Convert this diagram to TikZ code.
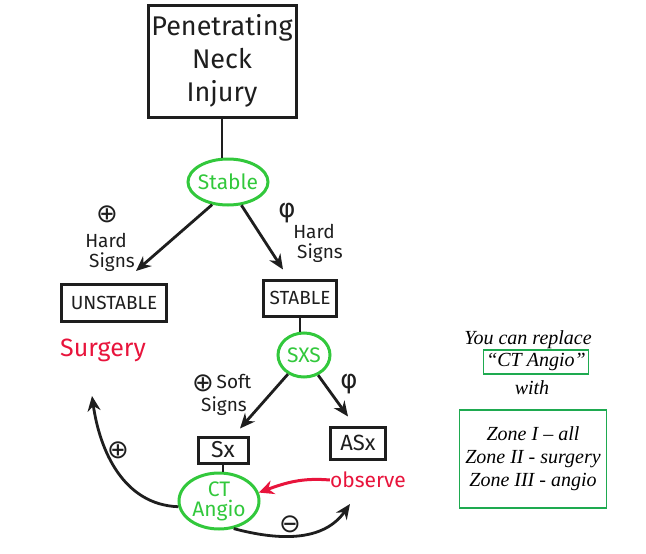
\documentclass[tikz,border=0pt]{standalone}
\usepackage{fontspec}
\setmainfont{Liberation Serif}
\newfontfamily\hand{Fira Sans}
\newfontfamily\symf{DejaVu Sans}
\usetikzlibrary{arrows.meta,shapes.geometric}
\definecolor{hgreen}{RGB}{50,200,60}
\definecolor{hred}{RGB}{232,20,60}
\definecolor{bgreen}{RGB}{30,170,80}
\definecolor{ink}{RGB}{30,30,30}
\begin{document}
\begin{tikzpicture}[x=1pt,y=-1pt,
  hbox/.style={draw=ink,line width=3pt,inner sep=2pt,font=\hand\fontsize{19}{20}\selectfont,text=ink},
  goval/.style={draw=hgreen,ellipse,line width=3pt,inner sep=-14pt,text=hgreen,font=\hand\fontsize{21}{21}\selectfont,align=center},
  arr/.style={-{Stealth[length=15pt,width=13pt]},line width=2.8pt,draw=ink},
  redarr/.style={-{Stealth[length=15pt,width=14pt]},line width=3pt,draw=hred},
  plain/.style={line width=2.8pt,draw=ink},
  lbl/.style={font=\hand\fontsize{19}{21}\selectfont,text=ink,inner sep=0pt},
  sym/.style={font=\symf\fontsize{26}{26}\selectfont,text=ink,inner sep=0pt},
  note/.style={font=\itshape\fontsize{20}{23}\selectfont,align=center,inner sep=0pt}]
\useasboundingbox (0,0) rectangle (646,554);
% main flow
\node[hbox,minimum width=148pt,minimum height=112pt,align=center,font=\hand\fontsize{27}{33}\selectfont] (pni) at (222,61) {Penetrating\\Neck\\Injury};
\node[goval,minimum width=80pt,minimum height=46pt] (st1) at (228,182) {Stable};
\node[hbox,minimum width=105pt,minimum height=37pt] (unst) at (114,303) {UNSTABLE};
\node[hbox,minimum width=73pt,minimum height=36pt] (stab) at (300,298) {STABLE};
\node[text=hred,font=\hand\fontsize{25}{25}\selectfont,inner sep=0pt] (surg) at (103,350) {Surgery};
\node[goval,minimum width=52pt,minimum height=44pt] (sxs) at (304,355) {SXS};
\node[hbox,minimum width=50pt,minimum height=26pt,font=\hand\fontsize{23}{23}\selectfont] (sx) at (223,450) {Sx};
\node[hbox,minimum width=55pt,minimum height=32pt,font=\hand\fontsize{22}{22}\selectfont] (asx) at (358,443) {ASx};
\node[goval,minimum width=80pt,minimum height=56pt,font=\hand\fontsize{21}{20}\selectfont] (cta) at (219,501) {CT\\Angio};
\node[text=hred,font=\hand\fontsize{21}{21}\selectfont,inner sep=0pt] (obs) at (368,480) {observe};
% labels
\node[sym] (l1a) at (107,214) {⊕};
\node[lbl] (l1b) at (106,240) {Hard};
\node[lbl] (l1c) at (112,262) {Signs};
\node[sym] (l2a) at (287,213) {φ};
\node[lbl] (l2b) at (314,231) {Hard};
\node[lbl] (l2c) at (320,253) {Signs};
\node[sym] (l3a) at (203,383) {⊕};
\node[lbl] (l3b) at (234,381) {Soft};
\node[lbl] (l3c) at (224,406) {Signs};
\node[sym] (l4) at (349,384) {φ};
\node[sym] (l5) at (118,450) {⊕};
\node[sym] (l6) at (290,524) {⊖};
\coordinate (tgtL) at (92,396);
\coordinate (tgtR) at (350,504);
% connectors
\draw[plain] (pni.south) -- (pni.south |- st1.north);
\draw[arr] (st1.235) -- ([xshift=22pt,yshift=12pt]unst.north);
\draw[arr] (st1.300) -- ([xshift=-17pt,yshift=9pt]stab.north);
\draw[plain] (stab.south) -- (stab.south |- sxs.north);
\draw[arr] (sxs.230) -- ([xshift=17pt,yshift=7pt]sx.north);
\draw[arr] (sxs.305) -- ([xshift=-10pt,yshift=9pt]asx.north);
\draw[plain] (sx.south) -- (sx.south |- cta.north);
\draw[redarr] (obs.west) to[out=175,in=20] (cta.12);
\draw[arr] (cta.188) to[out=178,in=-82] (tgtL);
\draw[arr] (cta.-62) to[out=-15,in=235] (tgtR);
% notes
\node[note] (n1) at (528,340) {You can replace};
\node[note,draw=bgreen,line width=1.6pt,minimum width=105pt,minimum height=24pt] (n2) at (536,362) {“CT Angio”};
\node[note] (n3) at (532,388) {with};
\node[note,draw=bgreen,line width=1.6pt,minimum width=147pt,minimum height=98pt,inner sep=0pt] (n4) at (533,459) {Zone I – all\\Zone II - surgery\\Zone III - angio};
\end{tikzpicture}
\end{document}
